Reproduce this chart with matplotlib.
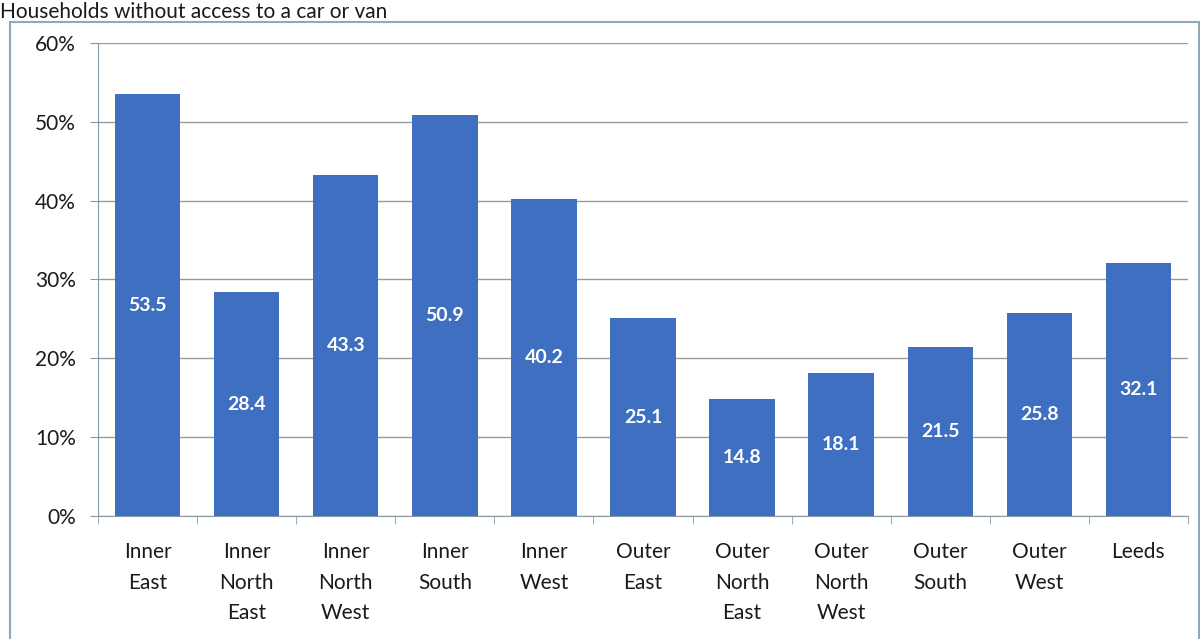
import matplotlib.pyplot as plt
from matplotlib.patches import Rectangle
from matplotlib.ticker import FixedLocator, PercentFormatter

# Chart data
areas = ['Inner\nEast', 'Inner\nNorth\nEast', 'Inner\nNorth\nWest', 'Inner\nSouth', 'Inner\nWest',
         'Outer\nEast', 'Outer\nNorth\nEast', 'Outer\nNorth\nWest', 'Outer\nSouth', 'Outer\nWest', 'Leeds']
no_car = [53.5, 28.4, 43.3, 50.9, 40.2, 25.1, 14.8, 18.1, 21.5, 25.8, 32.1]
title = 'Households without access to a car or van'

plt.rcParams['font.family'] = ['Lato', 'DejaVu Sans']

fig = plt.figure(figsize=(12.03, 6.39), dpi=100)
ax = fig.add_axes([0.0815, 0.1925, 0.906, 0.7402])

# outer chart border
fig.patches.append(Rectangle((10 / 1203, -0.05), 1189 / 1203, 1.05 - 22 / 639,
                             transform=fig.transFigure, fill=False,
                             edgecolor='#8eaab8', linewidth=1.5))
fig.text(0.0, 1 - 2 / 639, title, fontsize=15, color='#1a1a1a', va='top', ha='left')

x = list(range(len(areas)))
bars = ax.bar(x, no_car, width=0.66, color='#3f6fc0', zorder=3)
for xi, v in zip(x, no_car):
    ax.text(xi, v / 2, f'{v}', ha='center', va='center', color='white',
            fontsize=14, fontweight='bold', zorder=4)

ax.set_xlim(-0.5, len(areas) - 0.5)
ax.set_ylim(0, 60)
ax.set_yticks(range(0, 61, 10))
ax.yaxis.set_major_formatter(PercentFormatter(decimals=0))
ax.grid(axis='y', color='#9a9a9a', linewidth=1, zorder=0)

ax.set_xticks(x)
ax.set_xticklabels(areas, linespacing=1.65)
ax.xaxis.set_minor_locator(FixedLocator([i - 0.5 for i in range(len(areas) + 1)]))
ax.tick_params(axis='x', which='major', length=0, pad=19, labelsize=15, labelcolor='#1a1a1a')
ax.tick_params(axis='x', which='minor', length=6, color='#8a9aa5', direction='out')
ax.tick_params(axis='y', length=6, pad=10, labelsize=15, labelcolor='#1a1a1a', color='#8a9aa5')

for side in ['top', 'right']:
    ax.spines[side].set_visible(False)
for side in ['left', 'bottom']:
    ax.spines[side].set_color('#8a9aa5')

fig.savefig('out.png', dpi=100)
